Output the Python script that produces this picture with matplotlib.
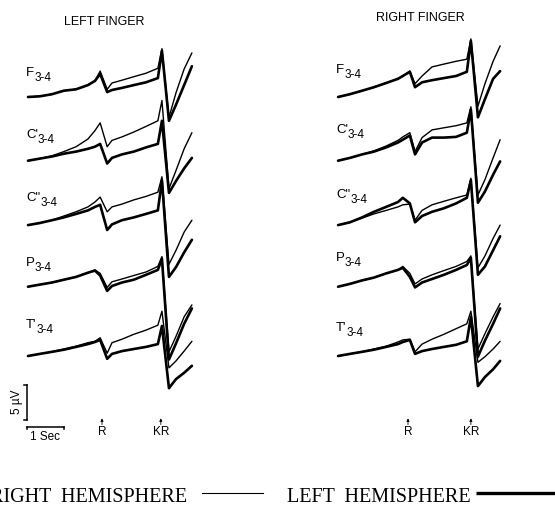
import matplotlib
matplotlib.use("Agg")
import matplotlib.pyplot as plt

# ---------------- data (time in s relative to response R, amplitude in µV) ----------------
t_left = [-2.00, -1.68, -1.35, -1.03, -0.70, -0.38, -0.19, -0.05, 0.14, 0.27,
          0.54, 0.86, 1.19, 1.51, 1.62, 1.81, 2.00, 2.22, 2.43]
t_right = [-1.89, -1.57, -1.24, -0.92, -0.59, -0.27, -0.14, 0.05, 0.19, 0.38,
           0.65, 0.97, 1.30, 1.59, 1.70, 1.89, 2.08, 2.30, 2.49]
kr_left = 1.59
kr_right = 1.70
leads = ["F", "C'", 'C"', "P", "T'"]
lead_sub = "3-4"

# LEFT FINGER  (rh = right hemisphere, thin ; lh = left hemisphere, thick)
lf_F_rh = [0, 0.1, 0.4, 0.9, 1.1, 1.7, 2.3, 3.7, 1.1, 2.0, 2.4, 2.9, 3.4, 4.1, 6.9, -2.9, 0.6, 4.0, 6.3]
lf_F_lh = [0, 0.1, 0.4, 0.9, 1.1, 1.7, 2.3, 3.3, 0.7, 1.0, 1.3, 1.7, 2.1, 2.7, 6.6, -3.4, -1.1, 1.7, 4.4]
lf_C1_rh = [0, 0.3, 0.7, 1.3, 2.0, 3.1, 4.3, 5.4, 2.0, 2.9, 3.4, 4.1, 4.9, 5.7, 8.6, -4.0, -1.4, 1.7, 4.0]
lf_C1_lh = [0, 0.3, 0.6, 1.0, 1.3, 1.7, 2.0, 2.4, -0.4, 0.4, 0.9, 1.3, 1.9, 2.4, 5.7, -4.6, -2.9, -1.1, 0.4]
lf_C2_rh = [0, 0.3, 0.7, 1.3, 1.9, 2.6, 3.3, 4.0, 1.9, 2.6, 3.0, 3.6, 4.1, 4.7, 6.9, -5.6, -3.6, -1.0, 0.7]
lf_C2_lh = [0, 0.3, 0.7, 1.1, 1.6, 2.1, 2.6, 2.9, -0.7, 0.1, 0.7, 1.1, 1.6, 2.1, 6.4, -7.4, -6.0, -3.9, -2.1]
lf_P_rh = [0, 0.3, 0.6, 1.0, 1.4, 2.0, 2.4, 1.9, -0.1, 0.7, 1.1, 1.6, 2.1, 2.9, 4.3, -9.3, -7.1, -4.3, -2.6]
lf_P_lh = [0, 0.3, 0.6, 1.0, 1.4, 2.0, 2.3, 1.6, -0.6, 0.1, 0.6, 1.0, 1.7, 2.4, 4.0, -10.4, -8.1, -5.3, -3.1]
lf_T_rh = [0, 0.3, 0.6, 1.0, 1.4, 1.9, 2.1, 2.6, 0.4, 1.9, 2.4, 3.1, 3.7, 4.4, 6.4, -1.7, -0.7, 0.7, 2.1]
lf_T_lh = [0, 0.3, 0.6, 0.9, 1.3, 1.7, 2.0, 2.3, -0.4, 0.3, 0.7, 1.0, 1.3, 1.7, 4.3, -4.6, -3.3, -2.4, -1.4]

# RIGHT FINGER
rf_F_rh = [0, 0.4, 0.9, 1.4, 2.0, 2.6, 3.0, 3.7, 1.9, 3.0, 4.3, 4.7, 5.1, 5.4, 8.3, -1.3, 1.9, 5.1, 7.3]
rf_F_lh = [0, 0.4, 0.9, 1.4, 2.0, 2.6, 3.0, 3.6, 1.4, 2.1, 2.4, 2.7, 3.0, 3.6, 8.0, -2.9, -0.3, 2.6, 3.7]
rf_C1_rh = [0, 0.4, 0.9, 1.4, 2.1, 2.9, 3.4, 4.0, 1.3, 3.3, 4.4, 4.7, 5.0, 5.4, 7.7, -4.9, -2.7, 0.4, 3.0]
rf_C1_lh = [0, 0.4, 0.9, 1.3, 1.9, 2.6, 3.0, 3.6, 0.9, 2.6, 3.3, 3.3, 3.4, 4.0, 7.3, -6.0, -4.4, -2.0, -0.1]
rf_C2_rh = [0, 0.4, 1.0, 1.6, 2.1, 2.6, 2.9, 3.0, 0.7, 2.1, 2.9, 3.4, 3.9, 4.3, 6.7, -6.1, -4.4, -1.9, 0.0]
rf_C2_lh = [0, 0.4, 1.1, 1.9, 2.6, 3.3, 3.9, 3.1, 0.4, 1.3, 1.9, 2.4, 3.1, 3.9, 6.4, -7.1, -5.9, -3.6, -1.6]
rf_P_rh = [0, 0.4, 0.9, 1.3, 1.9, 2.4, 2.9, 1.9, 0.4, 1.1, 1.7, 2.3, 2.9, 3.6, 4.4, -8.9, -6.7, -4.3, -2.4]
rf_P_lh = [0, 0.4, 0.9, 1.3, 1.9, 2.4, 2.7, 1.4, -0.1, 0.6, 1.1, 1.7, 2.4, 3.1, 4.1, -10.0, -7.7, -5.3, -3.1]
rf_T_rh = [0, 0.3, 0.6, 1.0, 1.4, 2.0, 2.3, 2.4, 0.6, 1.7, 2.4, 3.1, 3.9, 4.6, 6.4, -0.9, -0.1, 1.0, 2.1]
rf_T_lh = [0, 0.3, 0.6, 0.9, 1.3, 1.7, 2.0, 2.3, 0.3, 0.7, 1.0, 1.3, 1.6, 2.1, 5.6, -4.3, -3.0, -1.9, -0.7]

left_rh = [lf_F_rh, lf_C1_rh, lf_C2_rh, lf_P_rh, lf_T_rh]
left_lh = [lf_F_lh, lf_C1_lh, lf_C2_lh, lf_P_lh, lf_T_lh]
right_rh = [rf_F_rh, rf_C1_rh, rf_C2_rh, rf_P_rh, rf_T_rh]
right_lh = [rf_F_lh, rf_C1_lh, rf_C2_lh, rf_P_lh, rf_T_lh]

# ---------------- layout ----------------
W, H = 555, 507
PX_S = 37.0      # pixels per second
PX_UV = 7.0      # pixels per µV
row_offsets = [0.0, -9.1, -18.3, -27.1, -37.0]   # µV offsets of the stacked leads
top_base_px = 97.0

fig = plt.figure(figsize=(W / 100, H / 100), dpi=100)
fig.patch.set_facecolor("white")

def make_panel(x0_px, x1_px, r_px):
    ax = fig.add_axes([x0_px / W, 0, (x1_px - x0_px) / W, 1])
    ax.set_xlim((x0_px - r_px) / PX_S, (x1_px - r_px) / PX_S)
    ax.set_ylim((top_base_px - H) / PX_UV, top_base_px / PX_UV)
    ax.axis("off")
    return ax

axL = make_panel(0, 277.5, 102)
axR = make_panel(277.5, 555, 408)

thin_lw, thick_lw = 1.0, 1.9
for ax, tt, rh, lh in [(axL, t_left, left_rh, left_lh), (axR, t_right, right_rh, right_lh)]:
    for off, a, b in zip(row_offsets, rh, lh):
        ax.plot(tt, [v + off for v in a], color="black", lw=thin_lw,
                solid_joinstyle="round", solid_capstyle="round")
        ax.plot(tt, [v + off for v in b], color="black", lw=thick_lw,
                solid_joinstyle="round", solid_capstyle="round")

# scale bars (left panel): 5 µV and 1 s
sb_t = -2.03
sb_v0 = -41.1
axL.plot([sb_t, sb_t], [sb_v0, sb_v0 - 5], color="black", lw=1.1)
axL.plot([sb_t - 0.08, sb_t], [sb_v0, sb_v0], color="black", lw=1.1)
axL.plot([sb_t - 0.08, sb_t], [sb_v0 - 5, sb_v0 - 5], color="black", lw=1.1)
sec_v = -47.1
axL.plot([sb_t, sb_t + 1.0], [sec_v, sec_v], color="black", lw=1.1)
axL.plot([sb_t, sb_t], [sec_v, sec_v - 0.35], color="black", lw=1.1)
axL.plot([sb_t + 1.0, sb_t + 1.0], [sec_v, sec_v - 0.35], color="black", lw=1.1)
axL.text(sb_t - 0.27, sb_v0 - 2.5, "5 µV", rotation=90, ha="center", va="center",
         fontsize=8.5, family="Liberation Sans")
axL.text(sb_t + 0.5, sec_v - 0.55, "1 Sec", ha="center", va="top",
         fontsize=8.5, family="Liberation Sans")

# event markers R and KR
arrow_v0, arrow_v1 = -46.8, -45.9
for ax, kr in [(axL, kr_left), (axR, kr_right)]:
    for tt, lab in [(0.0, "R"), (kr, "KR")]:
        ax.annotate("", xy=(tt, arrow_v1), xytext=(tt, arrow_v0),
                    arrowprops=dict(arrowstyle="-|>", lw=0.6, color="black",
                                    mutation_scale=4, shrinkA=0, shrinkB=0))
        ax.text(tt, arrow_v0 - 0.15, lab, ha="center", va="top", fontsize=8.5,
                family="Liberation Sans")

# overlay in pixel coordinates for labels and legend
ov = fig.add_axes([0, 0, 1, 1])
ov.set_xlim(0, W)
ov.set_ylim(H, 0)
ov.axis("off")
ov.patch.set_alpha(0)

ov.text(104, 22, "LEFT FINGER", ha="center", va="center", fontsize=9,
        family="Liberation Sans")
ov.text(420, 18, "RIGHT FINGER", ha="center", va="center", fontsize=9,
        family="Liberation Sans")

lab_left_y = [73, 135, 198, 263, 325]
lab_right_y = [70, 130, 195, 258, 328]
for x0, ys in [(26, lab_left_y), (336, lab_right_y)]:
    for lead, y in zip(leads, ys):
        t = ov.text(x0, y, lead, ha="left", va="center", fontsize=9.5,
                    family="Liberation Sans")
        ov.annotate(lead_sub, xy=(1.0, 0.1), xycoords=t, ha="left", va="center",
                    fontsize=8.5, family="Liberation Sans")

# bottom legend (the reference crops the first letter at the left edge)
ov.text(187, 497, "RIGHT  HEMISPHERE", ha="right", va="center", fontsize=14.5,
        family="Liberation Serif")
ov.plot([202, 263], [493, 493], color="black", lw=0.8)
ov.text(287, 497, "LEFT  HEMISPHERE", ha="left", va="center", fontsize=14.5,
        family="Liberation Serif")
ov.plot([476, 556], [493, 493], color="black", lw=2.4, solid_capstyle="butt")

fig.savefig("out.png", dpi=100, facecolor="white")
